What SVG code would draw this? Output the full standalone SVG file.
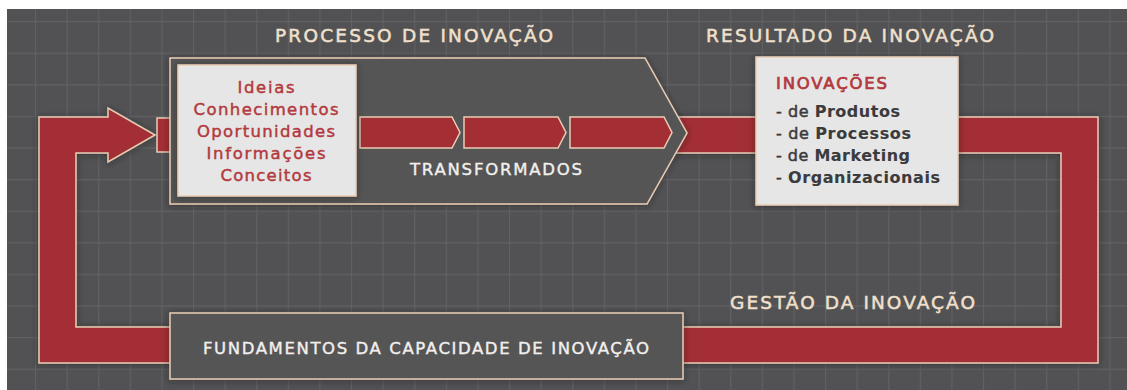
<svg xmlns="http://www.w3.org/2000/svg" width="1127" height="390" viewBox="0 0 1127 390">
<defs>
<pattern id="grid" x="3.4" y="21" width="31.6" height="31.6" patternUnits="userSpaceOnUse">
<path d="M0,0.5 H31.6 M0.5,0 V31.6" fill="none" stroke="#616163" stroke-width="1.3"/>
</pattern>
<filter id="sh" x="-10%" y="-10%" width="120%" height="130%">
<feDropShadow dx="0" dy="1" stdDeviation="3" flood-color="#1e1e1e" flood-opacity="0.55"/>
</filter>
<style>
.red{fill:#a32f34;stroke:#e9cdb5;stroke-width:1.5}
.box{fill:#e6e6e6;stroke:#e9cdb5;stroke-width:1.5}
.dark{fill:#555557;stroke:#e9cdb5;stroke-width:1.5}
.title{font-family:"DejaVu Sans","Liberation Sans",sans-serif;font-size:18.5px;fill:#f0e0cc;stroke:#f0e0cc;stroke-width:0.5}
.white{font-family:"DejaVu Sans","Liberation Sans",sans-serif;font-size:16.5px;fill:#f2efec;stroke:#f2efec;stroke-width:0.4}
.idea{font-family:"DejaVu Sans","Liberation Sans",sans-serif;font-size:16.5px;fill:#b3393d;stroke:#b3393d;stroke-width:0.45;text-anchor:middle}
.head{font-family:"DejaVu Sans","Liberation Sans",sans-serif;font-size:16.5px;fill:#b3393d;stroke:#b3393d;stroke-width:0.7}
.list{font-family:"DejaVu Sans","Liberation Sans",sans-serif;font-size:16px;fill:#3b3b3d;stroke:#3b3b3d;stroke-width:0.5}
.b{font-weight:bold;stroke-width:0.1}
</style>
</defs>
<rect x="7" y="9" width="1120" height="381" fill="#525254"/>
<rect x="7" y="9" width="1120" height="381" fill="url(#grid)"/>

<g id="connectors">
<path id="loop" class="red" filter="url(#sh)" d="M39,117 H108 V108 L155,135 L108,162 V153 H76 V327 H1061 V153 H660 V117 H1098 V363 H39 Z"/>
<rect id="entry" class="red" x="157" y="118" width="20" height="34"/>
</g>

<g id="processo" filter="url(#sh)">
<polygon class="dark" points="170,58 645,58 687,133 647,204 170,204"/>
</g>
<g id="transformacao">
<polygon class="red" points="360,117 452,117 460,132.5 452,148 360,148"/>
<polygon class="red" points="464,117 558,117 566,132.5 558,148 464,148"/>
<polygon class="red" points="570,117 664,117 672,132.5 664,148 570,148"/>
<text class="white" x="410" y="175" textLength="172">TRANSFORMADOS</text>
</g>

<g id="ideias" filter="url(#sh)">
<rect class="box" x="178" y="65" width="178" height="131"/>
</g>
<g id="ideias-text">
<text class="idea" x="266" y="93" textLength="57">Ideias</text>
<text class="idea" x="266" y="115" textLength="145">Conhecimentos</text>
<text class="idea" x="266" y="137" textLength="138">Oportunidades</text>
<text class="idea" x="266" y="159" textLength="119">Informações</text>
<text class="idea" x="266" y="181" textLength="91">Conceitos</text>
</g>

<g id="inovacoes" filter="url(#sh)">
<rect class="box" x="756" y="57" width="202" height="148"/>
</g>
<g id="inovacoes-text">
<text class="head" x="776" y="89" textLength="111">INOVAÇÕES</text>
<text class="list" x="776" y="117" textLength="124">- de <tspan class="b">Produtos</tspan></text>
<text class="list" x="776" y="139" textLength="135">- de <tspan class="b">Processos</tspan></text>
<text class="list" x="776" y="161" textLength="134">- de <tspan class="b">Marketing</tspan></text>
<text class="list" x="776" y="183" textLength="164">- <tspan class="b">Organizacionais</tspan></text>
</g>

<g id="fundamentos" filter="url(#sh)">
<rect class="dark" x="170" y="313" width="513" height="66"/>
</g>
<text class="white" x="203" y="354" textLength="446">FUNDAMENTOS DA CAPACIDADE DE INOVAÇÃO</text>

<g id="titulos">
<text class="title" x="275" y="42" textLength="278">PROCESSO DE INOVAÇÃO</text>
<text class="title" x="706" y="42" textLength="288">RESULTADO DA INOVAÇÃO</text>
<text class="title" x="730" y="309" textLength="245">GESTÃO DA INOVAÇÃO</text>
</g>
</svg>
